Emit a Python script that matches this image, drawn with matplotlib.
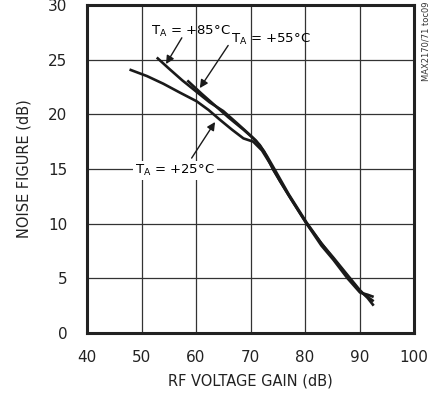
import numpy as np
import matplotlib.pyplot as plt

plt.rcParams['font.family'] = ['Liberation Sans Narrow', 'DejaVu Sans Condensed', 'DejaVu Sans']
plt.rcParams['mathtext.fontset'] = 'custom'
plt.rcParams['mathtext.rm'] = 'Liberation Sans Narrow'

# gain (dB) vs noise figure (dB)
gain25 = [47.8, 51.0, 54.0, 57.0, 60.1, 62.3, 64.4, 66.6, 68.7, 70.5, 72.1, 73.6, 75.4, 77.5, 80.3, 83.0, 85.2, 87.8, 90.1, 91.5, 92.6]
nf25 = [24.1, 23.5, 22.8, 22.0, 21.2, 20.4, 19.5, 18.6, 17.8, 17.5, 16.7, 15.5, 13.9, 12.2, 10.0, 8.2, 6.9, 5.3, 3.9, 3.2, 2.5]
gain55 = [58.4, 61.0, 63.5, 66.0, 68.7, 70.3, 71.7, 73.0, 74.5, 77.0, 80.3, 83.0, 85.2, 87.8, 90.1, 91.5, 92.6]
nf55 = [23.1, 21.9, 20.8, 19.7, 18.6, 17.9, 17.2, 16.2, 14.9, 12.7, 10.1, 8.2, 6.8, 5.2, 3.8, 3.3, 2.9]
gain85 = [52.8, 55.0, 57.5, 60.0, 62.5, 65.0, 67.5, 69.5, 71.0, 72.5, 74.2, 77.0, 80.3, 83.0, 85.2, 87.8, 90.1, 91.5, 92.6]
nf85 = [25.2, 24.2, 23.1, 22.1, 21.1, 20.3, 19.2, 18.3, 17.6, 16.6, 14.9, 12.6, 10.0, 8.0, 6.7, 5.0, 3.7, 3.5, 3.3]

fig = plt.figure(figsize=(4.4, 3.98), dpi=100)
ax = fig.add_axes([87/440, 1-333/398, 327/440, 328/398])

for g, n in [(gain25, nf25), (gain55, nf55), (gain85, nf85)]:
    ax.plot(g, n, color='#1a1a1a', lw=1.9, solid_capstyle='butt')

ax.set_xlim(40, 100)
ax.set_ylim(0, 30)
ax.set_xticks(np.arange(40, 101, 10))
ax.set_yticks(np.arange(0, 31, 5))
ax.grid(True, color='#333333', lw=0.9)
ax.tick_params(length=0, labelsize=11, colors='#222222')
ax.tick_params(axis='y', pad=14)
ax.tick_params(axis='x', pad=12)
for s in ax.spines.values():
    s.set_linewidth(2.2)
    s.set_color('#222222')
ax.set_xlabel('RF VOLTAGE GAIN (dB)', fontsize=10.5, color='#222222', labelpad=6)
ax.set_ylabel('NOISE FIGURE (dB)', fontsize=10.5, color='#222222', labelpad=12)

arr = dict(arrowstyle='-|>', color='#1a1a1a', lw=1.0, mutation_scale=12, shrinkA=0, shrinkB=0)
ax.annotate('', xy=(54.5, 24.6), xytext=(57.4, 27.0), arrowprops=arr)
ax.text(51.7, 26.9, 'T$_{\\mathrm{A}}$ = +85°C', fontsize=9.5, ha='left', va='bottom')
ax.annotate('', xy=(60.7, 22.4), xytext=(65.9, 26.3), arrowprops=arr)
ax.text(66.4, 26.2, 'T$_{\\mathrm{A}}$ = +55°C', fontsize=9.5, ha='left', va='bottom')
ax.annotate('', xy=(63.5, 19.3), xytext=(59.2, 16.0), arrowprops=arr)
ax.text(48.8, 14.9, 'T$_{\\mathrm{A}}$ = +25°C', fontsize=9.5, ha='left', va='center',
        bbox=dict(boxstyle='square,pad=0.15', fc='white', ec='none'))

fig.text(0.968, 0.995, 'MAX2170/71 toc09', rotation=90, fontsize=6, ha='center', va='top', color='#333333')

fig.savefig('out.png', dpi=100)
